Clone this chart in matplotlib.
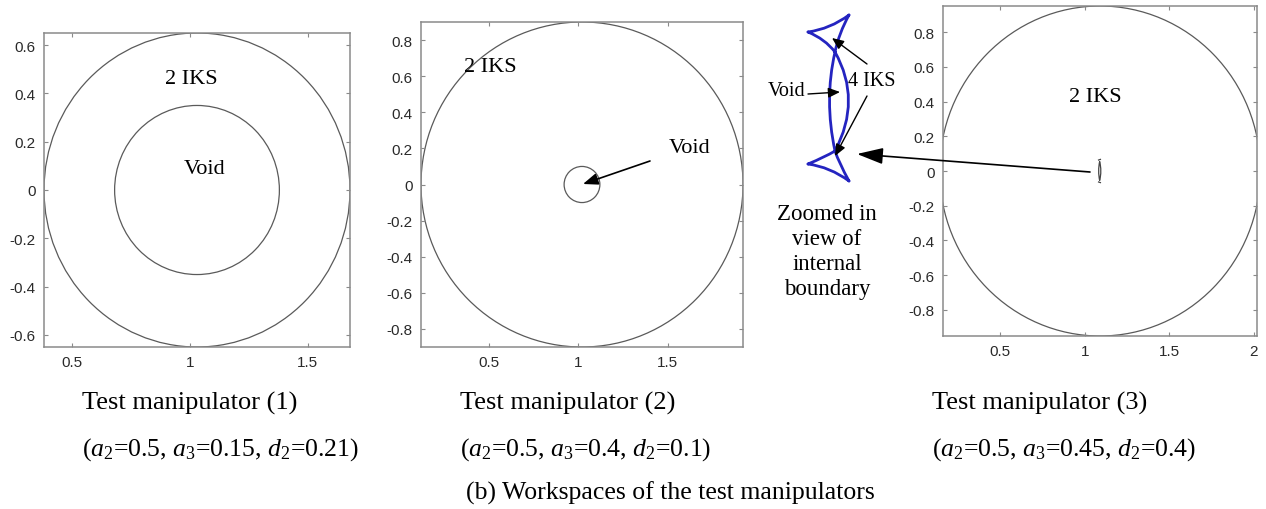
import matplotlib
matplotlib.use("Agg")
import matplotlib.pyplot as plt
from matplotlib.patches import Circle, PathPatch
from matplotlib.path import Path

plt.rcParams['mathtext.fontset'] = 'custom'
plt.rcParams['mathtext.rm'] = 'Liberation Serif'
plt.rcParams['mathtext.it'] = 'Liberation Serif:italic'

# workspace boundaries (circles) of the three test manipulators
center_x = [1.03, 1.02, 1.09]
outer_r = [0.65, 0.90, 0.95]
inner_r = [0.35, 0.10, None]

x_ticks = [[0.5, 1, 1.5], [0.5, 1, 1.5], [0.5, 1, 1.5, 2]]
x_labels = [['0.5', '1', '1.5'], ['0.5', '1', '1.5'], ['0.5', '1', '1.5', '2']]
y_ticks = [[-0.6, -0.4, -0.2, 0, 0.2, 0.4, 0.6],
           [-0.8, -0.6, -0.4, -0.2, 0, 0.2, 0.4, 0.6, 0.8],
           [-0.8, -0.6, -0.4, -0.2, 0, 0.2, 0.4, 0.6, 0.8]]
x_lims = [(0.38, 1.68), (0.12, 1.92), (0.16, 2.02)]
y_lims = [(-0.65, 0.65), (-0.9, 0.9), (-0.95, 0.95)]

titles = ['Test manipulator (1)', 'Test manipulator (2)', 'Test manipulator (3)']
params = [r'($a_2$=0.5, $a_3$=0.15, $d_2$=0.21)',
          r'($a_2$=0.5, $a_3$=0.4, $d_2$=0.1)',
          r'($a_2$=0.5, $a_3$=0.45, $d_2$=0.4)']

# axes boxes in pixels: left, right, top, bottom
boxes = [(44, 350, 34, 348), (421, 743, 23, 348), (943, 1257, 7, 337)]
caption_x = [82, 460, 932]

W, H = 1266, 510
fig = plt.figure(figsize=(W / 100, H / 100), dpi=100)

line_c = '#5a5a5a'
spine_c = '#8a8a8a'
axes = []
for i in range(3):
    l, r, t, b = boxes[i]
    ax = fig.add_axes([l / W, (H - b) / H, (r - l) / W, (b - t) / H])
    ax.add_patch(Circle((center_x[i], 0), outer_r[i], fill=False, color=line_c, lw=0.9))
    if inner_r[i] is not None:
        ax.add_patch(Circle((center_x[i], 0), inner_r[i], fill=False, color=line_c, lw=0.9))
    ax.set_xlim(*x_lims[i])
    ax.set_ylim(*y_lims[i])
    ax.set_xticks(x_ticks[i])
    ax.set_xticklabels(x_labels[i])
    ax.set_yticks(y_ticks[i])
    ax.set_yticklabels(['%g' % v for v in y_ticks[i]])
    ax.tick_params(direction='in', length=3, width=0.8, color=spine_c,
                   top=True, right=True, labelsize=11, labelcolor='#2a2a2a', pad=6)
    for lab in ax.get_xticklabels() + ax.get_yticklabels():
        lab.set_family('Liberation Sans')
    for s in ax.spines.values():
        s.set_color(spine_c)
        s.set_linewidth(1.1)
    axes.append(ax)

# tiny internal boundary of manipulator 3
cx = center_x[2]
small_verts = [(cx - 0.002, 0.055), (cx - 0.014, 0.0), (cx - 0.002, -0.055),
               (cx - 0.002, 0.055), (cx + 0.012, 0.0), (cx - 0.002, -0.055),
               (cx - 0.012, 0.062), (cx + 0.006, 0.068),
               (cx - 0.012, -0.062), (cx + 0.006, -0.068)]
small_codes = [Path.MOVETO, Path.CURVE3, Path.CURVE3,
               Path.MOVETO, Path.CURVE3, Path.CURVE3,
               Path.MOVETO, Path.LINETO, Path.MOVETO, Path.LINETO]
axes[2].add_patch(PathPatch(Path(small_verts, small_codes), fill=False,
                            color='#444444', lw=0.9))

# overlay in pixel coordinates for labels, arrows and zoomed view
ov = fig.add_axes([0, 0, 1, 1], zorder=10)
ov.set_xlim(0, W)
ov.set_ylim(H, 0)
ov.axis('off')
ov.patch.set_alpha(0)

serif = 'Liberation Serif'

# zoomed-in view of the internal boundary (blue curve)
zoom_verts = [(808, 33), (830, 30), (849, 16),
              (808, 33), (825, 40), (835, 53),
              (849, 16), (839, 34), (835, 53),
              (835, 53), (824, 101), (835, 152),
              (835, 53), (862, 101), (835, 152),
              (808, 165), (825, 158), (835, 152),
              (808, 165), (830, 168), (849, 182),
              (849, 182), (839, 164), (835, 152)]
zoom_codes = [Path.MOVETO, Path.CURVE3, Path.CURVE3] * 8
ov.add_patch(PathPatch(Path(zoom_verts, zoom_codes), fill=False,
                       color='#2424c0', lw=2.0, capstyle='round', joinstyle='round'))

# in-plot labels
ov.text(191, 80, '2 IKS', fontsize=16, family=serif, ha='center', va='center')
ov.text(205, 170, 'Void', fontsize=16, family=serif, ha='center', va='center')
ov.text(490, 68, '2 IKS', fontsize=16, family=serif, ha='center', va='center')
ov.text(690, 149, 'Void', fontsize=16, family=serif, ha='center', va='center')
ov.text(1095, 98, '2 IKS', fontsize=16, family=serif, ha='center', va='center')
ov.text(787, 91, 'Void', fontsize=14.5, family=serif, ha='center', va='center')
ov.text(872, 82, '4 IKS', fontsize=14.5, family=serif, ha='center', va='center')
ov.text(827, 252, 'Zoomed in\nview of\ninternal\nboundary', fontsize=16.5, family=serif,
        ha='center', va='center', linespacing=1.25)


def arrow(x0, y0, x1, y1, hl, hw, lw=1.0):
    ov.annotate('', xy=(x1, y1), xytext=(x0, y0),
                arrowprops=dict(arrowstyle='-|>,head_length=%g,head_width=%g' % (hl, hw),
                                color='black', lw=lw, shrinkA=0, shrinkB=0,
                                mutation_scale=10))


arrow(650, 162, 583, 185, 0.9, 0.35, 1.2)
arrow(808, 95, 840, 93, 0.7, 0.3)
arrow(867, 65, 832, 39, 0.7, 0.3)
arrow(867, 97, 835, 157, 0.7, 0.3)
arrow(1090, 173, 857, 155, 1.6, 0.5, 1.2)

# captions
for i in range(3):
    ov.text(caption_x[i], 403, titles[i], fontsize=19, family=serif, ha='left', va='center')
    ov.text(caption_x[i], 450, params[i], fontsize=18.5, family=serif, ha='left', va='center')
ov.text(466, 493, '(b) Workspaces of the test manipulators', fontsize=18.5, family=serif,
        ha='left', va='center')

fig.savefig('out.png', dpi=100)
